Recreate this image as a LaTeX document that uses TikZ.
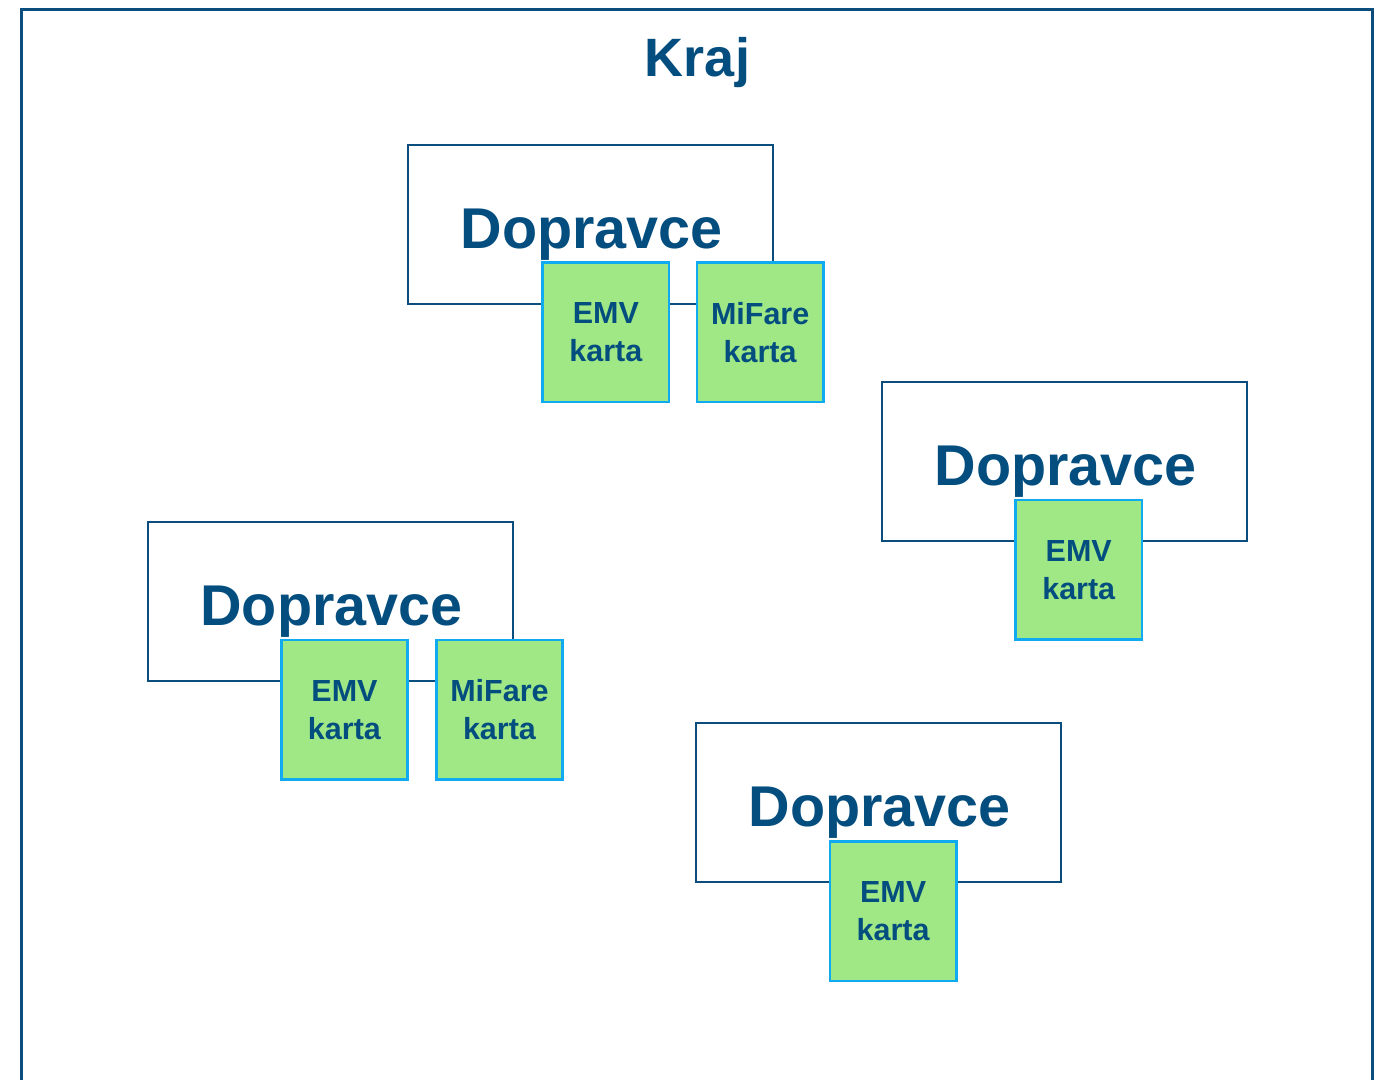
\documentclass[tikz,border=0pt]{standalone}
\usepackage{fontspec}
\setmainfont{Liberation Sans}
\usetikzlibrary{calc}
\definecolor{navy}{HTML}{044E7F}
\definecolor{linenavy}{HTML}{0B4E7D}
\definecolor{cardfill}{HTML}{A0E886}
\definecolor{cardline}{HTML}{10AAF0}
\tikzset{
  frameline/.style={draw=linenavy, line width=3pt},
  carrierbox/.style={draw=linenavy, line width=2pt, fill=white, rectangle,
    minimum width=365pt, minimum height=158.5pt, inner sep=0pt, outer sep=0pt},
  carriertext/.style={text=navy, font=\fontsize{57.5}{60}\selectfont\bfseries,
    inner sep=0pt, anchor=base},
  cardbox/.style={draw=cardline, line width=2.5pt, fill=cardfill, rectangle,
    minimum width=126.3pt, minimum height=139.7pt, inner sep=0pt, outer sep=0pt,
    text=navy, align=center, font=\fontsize{30.5}{38}\selectfont\bfseries,
    anchor=north west},
  titletext/.style={text=navy, font=\fontsize{54}{56}\selectfont\bfseries,
    inner sep=0pt, anchor=base},
}
\begin{document}
\begin{tikzpicture}[x=1pt,y=-1pt]
\useasboundingbox (0,0) rectangle (1388,1079);
\fill[white] (0,0) rectangle (1388,1079);
% outer frame (open at the bottom)
\draw[frameline] (21.3,1090) -- (21.3,9) -- (1372.5,9) -- (1372.5,1090);
\node[titletext] (kraj) at (697.5,76) {Kraj};

% carriers
\node[carrierbox, anchor=north west] (dA) at (408.3,145) {};
\node[carrierbox, anchor=north west] (dB) at (882.3,382.3) {};
\node[carrierbox, anchor=north west] (dC) at (148,522.3) {};
\node[carrierbox, anchor=north west] (dD) at (696.3,723) {};

\foreach \n in {dA,dB,dC,dD}{
  \node[carriertext] (\n t) at ($(\n.north)+(1,103)$) {Dopravce};
}

% cards
\node[cardbox] (eA) at ($(dA.north west)+(134.4,117.3)$) {EMV\\karta};
\node[cardbox] (mA) at ($(dA.north west)+(288.7,117.3)$) {MiFare\\karta};
\node[cardbox] (eB) at ($(dB.north west)+(133.3,117.7)$) {EMV\\karta};
\node[cardbox] (eC) at ($(dC.north west)+(133.3,117.7)$) {EMV\\karta};
\node[cardbox] (mC) at ($(dC.north west)+(288.3,117.7)$) {MiFare\\karta};
\node[cardbox] (eD) at ($(dD.north west)+(133.7,118.3)$) {EMV\\karta};
\end{tikzpicture}
\end{document}
